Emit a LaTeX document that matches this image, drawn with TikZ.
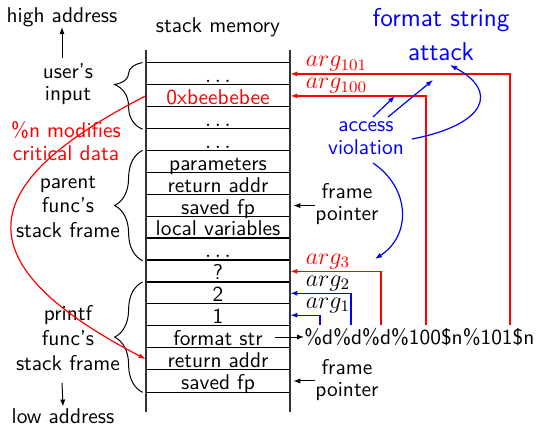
\documentclass[tikz,border=0pt]{standalone}
\usetikzlibrary{decorations.pathreplacing,arrows.meta,calc}
\begin{document}
\begin{tikzpicture}[x=0.5pt,y=-0.5pt,
  every node/.style={font=\sffamily\fontsize{10.7}{11.3}\selectfont, inner sep=0pt},
  cellbox/.style={minimum width=72pt, minimum height=10.965pt, text height=8.5pt, text depth=0pt},
  hline/.style={line width=0.6pt},
  stackline/.style={line width=0.9pt, black!80},
  brc/.style={decorate, line width=0.5pt},
  arr/.style={-{Latex[length=3.5pt,width=2.6pt]}, line width=0.5pt},
  rarr/.style={arr, red, line width=0.7pt},
  barr/.style={arr, blue, line width=0.6pt},
  arglab/.style={anchor=base west, font=\fontsize{11.7}{13}\selectfont},
  lab3/.style={align=center, font=\sffamily\fontsize{10.7}{12.3}\selectfont},
]
\useasboundingbox (0,0) rectangle (549,426);

% cells
\foreach \t [count=\i] in {$\ldots$, \textcolor{red}{0xbeebebee}, $\ldots$, $\ldots$, parameters, return addr, saved fp, local variables, $\ldots$, ?, 2, 1, format str, return addr, saved fp}
  \node[cellbox] (c\i) at (218, {63+21.93*(\i-0.5)}) {\t};
\foreach \i in {1,...,15}
  \draw[hline] (c\i.north west) -- (c\i.north east);
\draw[hline] (c15.south west) -- (c15.south east);

% stack walls
\draw[stackline] (146,50) -- (146,412);
\draw[stackline] (290,50) -- (290,412);

% braces
\draw[brc, decoration={brace, amplitude=14pt, aspect=0.67}] ([xshift=-1.5pt]c3.south west) -- ([xshift=-1.5pt]c1.north west);
\draw[brc, decoration={brace, amplitude=14pt, aspect=0.5}] ([xshift=-1.5pt]c9.south west) -- ([xshift=-1.5pt]c5.north west);
\draw[brc, decoration={brace, amplitude=14pt, aspect=0.5}] ([xshift=-1.5pt]c15.south west) -- ([xshift=-1.5pt]c11.north west);

% left labels
\node (sm) at (218,27) {stack memory};
\node (ha) at (62,17) {high address};
\node (la) at (63,416.5) {low address};
\coordinate (upstart) at (62,58);
\coordinate (downstart) at (62,383);
\draw[arr] (upstart) -- (ha.south);
\draw[arr] (downstart) -- ([yshift=1pt]la.north);
\node[align=center] (ui) at (68,84) {user's\\input};
\node[lab3] (pf) at (68,207) {parent\\func's\\stack frame};
\node[lab3] (pr) at (68,338) {printf\\func's\\stack frame};
\node[red, align=center] (nmod) at (66,141) {\%n modifies\\critical data};

% %n overwrite curve
\draw[rarr, line width=0.6pt] (c2.west) .. controls (-14,178) and (-51,257) .. (c14.west);

% format string
\node[anchor=west] (fmt) at (304,337) {\%d\%d\%d\%100\$n\%101\$n};
\coordinate (fs) at (275,337);
\draw[arr] (fs) -- (fmt.west);

\coordinate (p1) at (320,325);
\coordinate (p2) at (351,325);
\coordinate (p3) at (381,325);
\coordinate (p4) at (426,325);
\coordinate (p5) at (510,325);
\draw[barr] (p1) |- (c12.east);
\draw[barr] (p2) |- (c11.east);
\draw[rarr] (p3) |- (c10.east);
\draw[rarr] (p4) |- (c2.east);
\draw[rarr] (p5) |- (c1.east);

\node[arglab] (l1) at ([xshift=7.5pt,yshift=3.5pt]c12.east) {$arg_1$};
\node[arglab] (l2) at ([xshift=7.5pt,yshift=3.5pt]c11.east) {$arg_2$};
\node[arglab, red] (l3) at ([xshift=7.5pt,yshift=3.5pt]c10.east) {$arg_3$};
\node[arglab, red] (l100) at ([xshift=7.5pt,yshift=3.5pt]c2.east) {$arg_{100}$};
\node[arglab, red] (l101) at ([xshift=7.5pt,yshift=3.5pt]c1.east) {$arg_{101}$};

% frame pointers
\node[align=center] (fp1) at (347,204) {frame\\pointer};
\node[align=center] (fp2) at (347,380) {frame\\pointer};
\draw[arr] (fp1.west |- c7.east) -- ([xshift=1.5pt]c7.east);
\draw[arr] (fp2.west |- c15.east) -- ([xshift=1.5pt]c15.east);

% blue annotations
\node[blue, align=center, font=\sffamily\fontsize{12.9}{17}\selectfont] (fsa) at (441,35) {format string\\attack};
\node[blue, align=center] (acc) at (366,138) {access\\violation};
\coordinate (s1) at (373,117);
\coordinate (s2) at (388,117);
\coordinate (h1) at (395,96);
\coordinate (h2) at (433,80);
\coordinate (s3) at (412,139);
\coordinate (h3) at (450,65);
\coordinate (s4) at (373,163);
\coordinate (h4) at (375,259);
\draw[barr] (s1) -- (h1);
\draw[barr] (s2) -- (h2);
\draw[barr] (s3) .. controls (485,125) and (500,92) .. (h3);
\draw[barr] (s4) .. controls (410,188) and (412,235) .. (h4);
\end{tikzpicture}
\end{document}
